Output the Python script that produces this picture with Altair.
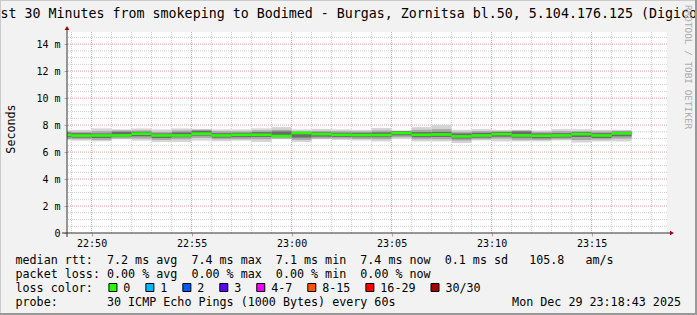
import json
import altair as alt
import pandas as pd

# ---------------- data ----------------
seg_start = ["22:48", "22:49", "22:50", "22:51", "22:52", "22:53", "22:54", "22:55",
             "22:56", "22:57", "22:58", "22:59", "23:00", "23:01", "23:02", "23:03",
             "23:04", "23:05", "23:06", "23:07", "23:08", "23:09", "23:10", "23:11",
             "23:12", "23:13", "23:14", "23:15", "23:16"]
median_ms = [7.27, 7.22, 7.23, 7.23, 7.36, 7.23, 7.23, 7.36, 7.23, 7.28, 7.28, 7.19, 7.41, 7.33,
             7.28, 7.26, 7.26, 7.41, 7.28, 7.30, 7.16, 7.23, 7.33, 7.23, 7.21, 7.23, 7.33, 7.23, 7.38]
smoke_max = [7.62, 7.65, 7.75, 7.68, 7.75, 7.68, 7.75, 7.72, 7.68, 7.68, 7.75, 7.85, 7.68, 7.72,
             7.68, 7.65, 7.78, 7.60, 7.85, 8.02, 7.65, 7.70, 7.65, 7.65, 7.60, 7.70, 7.70, 7.65, 7.65]
smoke_p85 = [7.53, 7.50, 7.55, 7.60, 7.60, 7.50, 7.60, 7.65, 7.55, 7.53, 7.60, 7.65, 7.55, 7.57,
             7.55, 7.53, 7.60, 7.57, 7.65, 7.70, 7.50, 7.55, 7.55, 7.60, 7.50, 7.55, 7.55, 7.53, 7.57]
smoke_p65 = [7.44, 7.40, 7.38, 7.50, 7.50, 7.38, 7.46, 7.58, 7.40, 7.43, 7.48, 7.53, 7.43, 7.46,
             7.43, 7.43, 7.46, 7.53, 7.48, 7.50, 7.38, 7.43, 7.48, 7.53, 7.38, 7.40, 7.46, 7.40, 7.50]
smoke_p35 = [7.10, 7.07, 7.04, 7.12, 7.17, 7.04, 7.10, 7.22, 7.07, 7.10, 7.12, 7.14, 7.07, 7.14,
             7.12, 7.10, 7.10, 7.24, 7.10, 7.12, 7.00, 7.07, 7.14, 7.07, 7.02, 7.07, 7.12, 7.04, 7.17]
smoke_p15 = [6.97, 6.95, 6.90, 7.00, 7.00, 6.90, 6.95, 7.05, 6.95, 6.95, 6.95, 7.00, 6.90, 7.00,
             7.00, 6.97, 6.95, 7.10, 6.95, 6.95, 6.85, 6.95, 7.00, 6.90, 6.90, 6.95, 6.90, 6.93, 7.00]
smoke_min = [6.88, 6.85, 6.80, 6.95, 6.85, 6.75, 6.75, 6.85, 6.80, 6.85, 6.75, 6.95, 6.75, 6.95,
             6.90, 6.86, 6.79, 6.96, 6.79, 6.79, 6.67, 6.86, 6.79, 6.79, 6.79, 6.86, 6.71, 6.79, 6.79]

x_tick_values = [0, 5, 10, 15, 20, 25]
x_tick_labels = ["22:50", "22:55", "23:00", "23:05", "23:10", "23:15"]
y_tick_values = [0, 2, 4, 6, 8, 10, 12, 14]
y_tick_labels = ["0   ", "2 m", "4 m", "6 m", "8 m", "10 m", "12 m", "14 m"]

title_text = "st 30 Minutes from smokeping to Bodimed - Burgas, Zornitsa bl.50, 5.104.176.125 (Digico"
y_title = "Seconds"
row_rtt = "median rtt:  7.2 ms avg  7.4 ms max  7.1 ms min  7.4 ms now  0.1 ms sd   105.8   am/s"
row_loss = "packet loss: 0.00 % avg  0.00 % max  0.00 % min  0.00 % now"
row_color = "loss color:"
row_probe = "probe:       30 ICMP Echo Pings (1000 Bytes) every 60s"
stamp = "Mon Dec 29 23:18:43 2025"
side_text = "RRDTOOL / TOBI OETIKER"
loss_labels = ["0", "1", "2", "3", "4-7", "8-15", "16-29", "30/30"]
loss_colors = ["#26ff00", "#00b8ff", "#0059ff", "#5e00ff", "#f000ff", "#ff5500", "#ff0000", "#a10000"]

# ---------------- layout / style ----------------
REF = 22 * 60 + 50
W, H = 600, 201
PL, PT = 67, 32
CW_W, CW_H = 697, 315
MONO = "DejaVu Sans Mono"
CW = 7.04  # legend character advance


def to_min(s):
    h, m = s.split(":")
    return int(h) * 60 + int(m) - REF


def nb(s):
    return s.replace(" ", "\u00a0")


df = pd.DataFrame({
    "start": [to_min(s) for s in seg_start],
    "median": median_ms,
    "smax": smoke_max, "p85": smoke_p85, "p65": smoke_p65,
    "p35": smoke_p35, "p15": smoke_p15, "smin": smoke_min,
})
df["end"] = df["start"] + 1

xs = alt.Scale(domain=[-1.23, 28.77], nice=False, zero=False)
ys = alt.Scale(domain=[0, 14.9], nice=False, zero=False)

x_axis = alt.Axis(values=x_tick_values,
                  labelExpr=f"{json.dumps(x_tick_labels)}[indexof({json.dumps(x_tick_values)}, datum.value)]",
                  title=None, grid=False, domain=False, tickColor="#d09a9a", tickSize=3,
                  labelFont=MONO, labelFontSize=10, labelColor="#000000", labelPadding=2,
                  labelFlush=False)
y_axis = alt.Axis(values=y_tick_values,
                  labelExpr=f"{json.dumps([nb(s) for s in y_tick_labels])}[indexof({json.dumps(y_tick_values)}, datum.value)]",
                  title=None, grid=False, domain=False, tickColor="#d09a9a", tickSize=3,
                  labelFont=MONO, labelFontSize=10, labelColor="#000000", labelPadding=4,
                  labelFlush=False)


def X(f):
    return alt.X(f"{f}:Q", scale=xs, axis=x_axis)


def Y(f):
    return alt.Y(f"{f}:Q", scale=ys, axis=y_axis)


one = pd.DataFrame({"a": [0]})
layers = []

# grid
minor_x = [v for v in range(-1, 29) if v not in x_tick_values]
minor_y = [v / 2 for v in range(1, 30) if (v / 2) not in y_tick_values]
layers.append(alt.Chart(pd.DataFrame({"v": minor_x})).mark_rule(color="#cfcfcf", strokeDash=[1, 1], strokeWidth=1).encode(x=X("v")))
layers.append(alt.Chart(pd.DataFrame({"v": minor_y})).mark_rule(color="#cfcfcf", strokeDash=[1, 1], strokeWidth=1).encode(y=Y("v")))
layers.append(alt.Chart(pd.DataFrame({"v": x_tick_values})).mark_rule(color="#e0a0a0", strokeDash=[1, 1], strokeWidth=1).encode(x=X("v")))
layers.append(alt.Chart(pd.DataFrame({"v": y_tick_values[1:]})).mark_rule(color="#e0a0a0", strokeDash=[1, 1], strokeWidth=1).encode(y=Y("v")))

# smoke
for lo, hi, col in [("smin", "smax", "#d4d4d4"), ("p15", "p85", "#a8a8a8"), ("p35", "p65", "#6c6c6c")]:
    layers.append(alt.Chart(df).mark_rect(color=col, clip=True).encode(
        x=X("start"), x2=alt.X2("end"), y=Y(lo), y2=alt.Y2(hi)))

# median
layers.append(alt.Chart(df).mark_rule(color="#26ff00", strokeWidth=2.6, clip=True).encode(
    x=X("start"), x2=alt.X2("end"), y=Y("median")))

# axis lines and arrows
layers.append(alt.Chart(one).mark_rule(color="#333333", strokeWidth=1).encode(
    x=alt.value(0), y=alt.value(-3), y2=alt.value(H + 4)))
layers.append(alt.Chart(one).mark_rule(color="#333333", strokeWidth=1).encode(
    x=alt.value(-5), x2=alt.value(W + 4), y=alt.value(H)))
layers.append(alt.Chart(one).mark_point(shape="triangle-up", filled=True, size=22, color="#a00000", opacity=1).encode(
    x=alt.value(0), y=alt.value(-4)))
layers.append(alt.Chart(one).mark_point(shape="triangle-right", filled=True, size=22, color="#a00000", opacity=1).encode(
    x=alt.value(W + 5), y=alt.value(H)))


def text(s, x, y, size, align="left", baseline="middle", angle=0, color="#000000"):
    return alt.Chart(pd.DataFrame({"t": [nb(s)]})).mark_text(
        font=MONO, fontSize=size, align=align, baseline=baseline, angle=angle, color=color
    ).encode(x=alt.value(x - PL), y=alt.value(y - PT), text="t:N")


layers.append(text(title_text, 0.5, 18, 13.3, baseline="alphabetic"))
layers.append(text(y_title, 11, 129, 11.7, align="center", angle=270))
layers.append(text(side_text, 688, 5, 9.4, align="left", angle=90, color="#ababab"))
layers.append(text(row_rtt, 15.5, 259.5, 11.7))
layers.append(text(row_loss, 15.5, 273.5, 11.7))
layers.append(text(row_color, 15.5, 287.5, 11.7))
layers.append(text(row_probe, 15.5, 301.5, 11.7))
layers.append(text(stamp, 681, 301.5, 11.7, align="right"))

col = 13.2
for lab, colr in zip(loss_labels, loss_colors):
    sx = 16 + col * CW
    layers.append(alt.Chart(one).mark_rect(fill=colr, stroke="#000000", strokeWidth=1).encode(
        x=alt.value(sx - PL), x2=alt.value(sx + 8 - PL), y=alt.value(283.5 - PT), y2=alt.value(291.5 - PT)))
    lx = sx + 2.05 * CW
    layers.append(text(lab, lx, 287.5, 11.7))
    col = col + 2.05 + len(lab) + 2.2

# frame shading
layers.append(alt.Chart(one).mark_rect(color="#cbcbcb").encode(
    x=alt.value(-PL), x2=alt.value(CW_W - PL), y=alt.value(-PT), y2=alt.value(-PT + 1)))
layers.append(alt.Chart(one).mark_rect(color="#cbcbcb").encode(
    x=alt.value(-PL), x2=alt.value(-PL + 1), y=alt.value(-PT), y2=alt.value(CW_H - PT)))
layers.append(alt.Chart(one).mark_rect(color="#999999").encode(
    x=alt.value(CW_W - PL - 2), x2=alt.value(CW_W - PL), y=alt.value(-PT), y2=alt.value(CW_H - PT)))
layers.append(alt.Chart(one).mark_rect(color="#999999").encode(
    x=alt.value(-PL), x2=alt.value(CW_W - PL), y=alt.value(CW_H - PT - 2), y2=alt.value(CW_H - PT)))

chart = alt.layer(*layers).properties(
    width=W, height=H,
    padding={"left": PL, "top": PT, "right": CW_W - PL - W, "bottom": CW_H - PT - H},
    autosize=alt.AutoSizeParams(type="none"),
    background="#f2f2f2",
).configure_view(fill="#ffffff", stroke=None)

chart.save("out.html", embed_options={"renderer": "svg", "actions": False})
